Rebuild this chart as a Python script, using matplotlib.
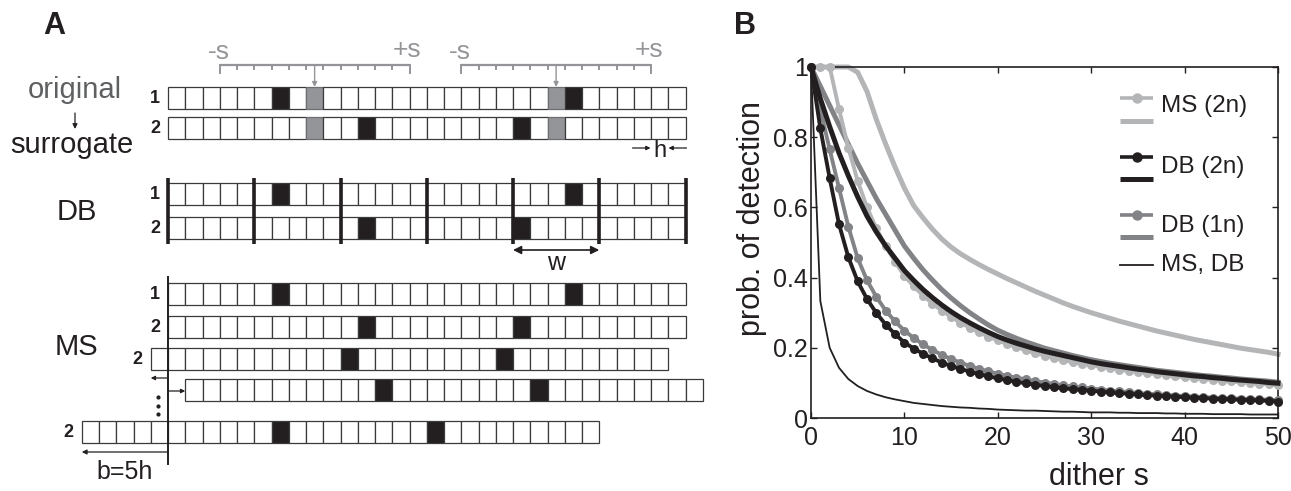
import matplotlib
matplotlib.use('Agg')
import matplotlib.pyplot as plt
from matplotlib.patches import Rectangle

plt.rcParams['font.family'] = ['Liberation Sans', 'DejaVu Sans']

# ---------------- Panel B data ----------------
dither = list(range(51))
ms2n_sim = [1.000, 1.000, 1.000, 0.880, 0.770, 0.675, 0.600, 0.540, 0.490, 0.445, 0.405,
            0.375, 0.349, 0.326, 0.306, 0.288, 0.272, 0.257, 0.244, 0.232, 0.221,
            0.211, 0.202, 0.193, 0.185, 0.178, 0.171, 0.165, 0.159, 0.154, 0.150,
            0.146, 0.142, 0.138, 0.134, 0.131, 0.128, 0.125, 0.122, 0.119, 0.116,
            0.114, 0.111, 0.109, 0.106, 0.104, 0.102, 0.100, 0.098, 0.096, 0.093]
ms2n_theory = [1.000, 1.000, 1.000, 1.000, 1.000, 0.985, 0.930, 0.850, 0.780, 0.715, 0.655,
               0.605, 0.570, 0.538, 0.510, 0.487, 0.468, 0.452, 0.437, 0.423, 0.410,
               0.397, 0.385, 0.373, 0.361, 0.350, 0.339, 0.328, 0.318, 0.309, 0.300,
               0.292, 0.284, 0.276, 0.269, 0.262, 0.255, 0.248, 0.242, 0.236, 0.230,
               0.224, 0.219, 0.214, 0.209, 0.204, 0.199, 0.195, 0.191, 0.187, 0.182]
db2n_sim = [1.000, 0.825, 0.683, 0.552, 0.458, 0.389, 0.339, 0.299, 0.266, 0.239, 0.215,
            0.198, 0.183, 0.170, 0.158, 0.148, 0.140, 0.132, 0.125, 0.119, 0.113,
            0.108, 0.103, 0.099, 0.095, 0.091, 0.088, 0.085, 0.082, 0.080, 0.078,
            0.075, 0.073, 0.071, 0.069, 0.067, 0.065, 0.064, 0.062, 0.061, 0.059,
            0.058, 0.057, 0.055, 0.054, 0.053, 0.052, 0.051, 0.050, 0.049, 0.047]
db2n_theory = [1.000, 0.910, 0.830, 0.755, 0.690, 0.630, 0.575, 0.530, 0.490, 0.455, 0.420,
               0.392, 0.366, 0.343, 0.322, 0.303, 0.286, 0.271, 0.257, 0.244, 0.232,
               0.222, 0.213, 0.205, 0.197, 0.190, 0.184, 0.178, 0.172, 0.166, 0.160,
               0.155, 0.151, 0.147, 0.143, 0.139, 0.136, 0.132, 0.129, 0.126, 0.123,
               0.120, 0.118, 0.115, 0.113, 0.110, 0.108, 0.106, 0.104, 0.101, 0.099]
db1n_sim = [1.000, 0.880, 0.765, 0.655, 0.545, 0.455, 0.392, 0.345, 0.306, 0.275, 0.249,
            0.228, 0.210, 0.194, 0.180, 0.168, 0.158, 0.148, 0.140, 0.133, 0.126,
            0.120, 0.115, 0.110, 0.105, 0.101, 0.097, 0.093, 0.090, 0.087, 0.084,
            0.081, 0.078, 0.076, 0.074, 0.071, 0.069, 0.068, 0.066, 0.064, 0.063,
            0.061, 0.060, 0.058, 0.057, 0.056, 0.055, 0.054, 0.053, 0.052, 0.051]
db1n_theory = [1.000, 0.945, 0.890, 0.835, 0.780, 0.725, 0.675, 0.625, 0.580, 0.535, 0.490,
               0.455, 0.422, 0.393, 0.366, 0.342, 0.320, 0.300, 0.282, 0.265, 0.250,
               0.238, 0.227, 0.217, 0.208, 0.199, 0.192, 0.185, 0.178, 0.172, 0.166,
               0.161, 0.156, 0.152, 0.148, 0.144, 0.140, 0.136, 0.133, 0.130, 0.127,
               0.124, 0.121, 0.119, 0.116, 0.114, 0.111, 0.109, 0.107, 0.105, 0.102]
msdb_thin = [1.000, 0.333, 0.200, 0.143, 0.111, 0.091, 0.077, 0.067, 0.059, 0.053, 0.048,
             0.043, 0.040, 0.037, 0.034, 0.032, 0.030, 0.029, 0.027, 0.026, 0.024,
             0.023, 0.022, 0.021, 0.021, 0.020, 0.019, 0.018, 0.018, 0.017, 0.016,
             0.016, 0.016, 0.015, 0.015, 0.014, 0.014, 0.014, 0.013, 0.013, 0.012,
             0.012, 0.012, 0.011, 0.011, 0.011, 0.011, 0.010, 0.010, 0.010, 0.010]
xticks = [0, 10, 20, 30, 40, 50]
yticks = [0, 0.2, 0.4, 0.6, 0.8, 1]
ytick_labels = ['0', '0.2', '0.4', '0.6', '0.8', '1']
legend_labels = ['MS (2n)', 'DB (2n)', 'DB (1n)', 'MS, DB']

# ---------------- Panel A data (bin indices) ----------------
n_bins = 30
train1_spikes = [6, 23]
train2_spikes = [11, 20]
dithered_spikes = [8, 22]
dither_bins = 5
window_bins = 5
ms_shifts = [0, -1, 1, -5]

# ---------------- styles ----------------
BLACK = '#231f20'
LGRAY = '#b3b5b7'
MGRAY = '#818386'
CGRAY = '#939598'
TGRAY = '#5f6062'

W_PX, H_PX = 1291, 491
fig = plt.figure(figsize=(W_PX / 100, H_PX / 100), dpi=100)

# full-figure overlay axes in pixel coordinates (panel A + legend)
ova = fig.add_axes([0, 0, 1, 1])
ova.set_xlim(0, W_PX)
ova.set_ylim(H_PX, 0)
ova.axis('off')
ova.set_zorder(5)

X0 = 168.0
BW = 17.25
CH = 21.5


def draw_row(y_top, start, black=(), gray=(), n=n_bins, label=None):
    for i in range(n):
        x = X0 + (start + i) * BW
        fc = 'white'
        ec = '#3a3a3a'
        if i in black:
            fc = BLACK
        elif i in gray:
            fc = CGRAY
            ec = '#6d6e71'
        ova.add_patch(Rectangle((x, y_top), BW, CH, fc=fc, ec=ec, lw=0.9, zorder=2))
    if label is not None:
        ova.text(X0 + start * BW - 8, y_top + CH / 2 + 1, label, ha='right', va='center',
                 fontsize=13, fontweight='bold', color=BLACK)


def arrow(x0, y0, x1, y1, color=BLACK, lw=1.0, style='-|>', ms=9):
    ova.annotate('', xy=(x1, y1), xytext=(x0, y0),
                 arrowprops=dict(arrowstyle=style, color=color, lw=lw,
                                 shrinkA=0, shrinkB=0, mutation_scale=ms), zorder=3)

# panel labels
ova.text(54, 26, 'A', fontsize=22, fontweight='bold', ha='center', va='center', color=BLACK)
ova.text(745, 26, 'B', fontsize=22, fontweight='bold', ha='center', va='center', color=BLACK)

# ---- section 1: original -> surrogate
draw_row(87, 0, train1_spikes, dithered_spikes, label='1')
draw_row(117, 0, train2_spikes, dithered_spikes, label='2')
ova.text(75, 90, 'original', ha='center', va='center', fontsize=21, color=TGRAY)
ova.text(72, 145, 'surrogate', ha='center', va='center', fontsize=21, color=BLACK)
arrow(75, 113, 75, 129, lw=0.9, ms=7)
for c in dithered_spikes:
    left = X0 + (c - dither_bins) * BW
    right = X0 + (c + dither_bins + 1) * BW
    yb = 65
    ova.plot([left, right], [yb, yb], color=CGRAY, lw=1.6, solid_capstyle='butt', zorder=3)
    for k in range(c - dither_bins, c + dither_bins + 2):
        xk = X0 + k * BW
        end = k in (c - dither_bins, c + dither_bins + 1)
        ova.plot([xk, xk], [yb, yb + (8 if end else 4)], color=CGRAY, lw=1.4, zorder=3)
    xc = X0 + (c + 0.5) * BW
    arrow(xc, yb, xc, 87, color=CGRAY, lw=1.0, ms=7)
    ova.text(left - 1, 52, '-s', ha='center', va='center', fontsize=19, color=CGRAY)
    ova.text(right - 2, 50, '+s', ha='center', va='center', fontsize=19, color=CGRAY)
# h annotation
xr = X0 + n_bins * BW
arrow(xr - 53, 148, xr - 35, 148, lw=0.9, ms=6)
arrow(xr + 1, 148, xr - 17, 148, lw=0.9, ms=6)
ova.text(xr - 26, 151, 'h', ha='center', va='center', fontsize=17, color=BLACK)

# ---- section DB
draw_row(183, 0, train1_spikes, label='1')
draw_row(217, 0, train2_spikes, label='2')
for k in range(0, n_bins + 1, window_bins):
    xk = X0 + k * BW
    ova.plot([xk, xk], [178, 244], color=BLACK, lw=2.6, solid_capstyle='butt', zorder=4)
ova.text(77, 212, 'DB', ha='center', va='center', fontsize=21, color=BLACK)
wl = X0 + 4 * window_bins * BW
wr = X0 + 5 * window_bins * BW
ova.annotate('', xy=(wl, 250), xytext=(wr, 250),
             arrowprops=dict(arrowstyle='<|-|>', color=BLACK, lw=1.2, shrinkA=0, shrinkB=0,
                             mutation_scale=12), zorder=3)
ova.text((wl + wr) / 2, 263, 'w', ha='center', va='center', fontsize=18, color=BLACK)

# ---- section MS
ms_tops = [316, 348, 379, 421]
draw_row(283, 0, train1_spikes, label='1')
for sh, yt in zip(ms_shifts, ms_tops):
    draw_row(yt, sh, train2_spikes, label=('2' if yt != 379 else None))
ova.plot([X0, X0], [277, 464], color=BLACK, lw=1.4, zorder=4)
arrow(X0, 378, X0 - BW, 378, lw=0.9, ms=6)
arrow(X0, 391, X0 + BW, 391, lw=0.9, ms=6)
for yd in (397, 405.5, 414):
    ova.plot([158], [yd], marker='o', ms=2.0, color=BLACK, zorder=3)
arrow(X0, 452, X0 + ms_shifts[3] * BW, 452, lw=0.9, ms=7)
ova.text(125, 472, 'b=5h', ha='center', va='center', fontsize=18, color=BLACK)
ova.text(76, 347, 'MS', ha='center', va='center', fontsize=21, color=BLACK)

# ---------------- Panel B ----------------
axb = fig.add_axes([811 / W_PX, 1 - 418 / H_PX, 467 / W_PX, 351 / H_PX])
axb.plot(dither, ms2n_theory, color=LGRAY, lw=3.6, clip_on=False, zorder=2)
axb.plot(dither, db1n_theory, color=MGRAY, lw=3.6, clip_on=False, zorder=2)
axb.plot(dither, ms2n_sim, color=LGRAY, lw=2.8, marker='o', ms=6.5, mew=0, clip_on=False, zorder=3)
axb.plot(dither, db1n_sim, color=MGRAY, lw=2.8, marker='o', ms=6.5, mew=0, clip_on=False, zorder=3)
axb.plot(dither, db2n_theory, color=BLACK, lw=3.6, clip_on=False, zorder=4)
axb.plot(dither, db2n_sim, color=BLACK, lw=2.8, marker='o', ms=6.5, mew=0, clip_on=False, zorder=5)
axb.plot(dither, msdb_thin, color=BLACK, lw=1.3, clip_on=False, zorder=6)

axb.set_xlim(0, 50)
axb.set_ylim(0, 1)
axb.set_xticks(xticks)
axb.set_xticklabels([str(v) for v in xticks])
axb.set_yticks(yticks)
axb.set_yticklabels(ytick_labels)
axb.tick_params(direction='in', length=4, width=1.0, top=True, right=True,
                labelsize=18, colors=BLACK)
axb.tick_params(axis='x', pad=6)
axb.tick_params(axis='y', pad=2)
for sp in axb.spines.values():
    sp.set_linewidth(1.2)
    sp.set_color(BLACK)
fig.text(752 / W_PX, 1 - 219 / H_PX, 'prob. of detection', rotation=90, ha='center',
         va='center', fontsize=22, color=BLACK)
fig.text(1099 / W_PX, 1 - 477 / H_PX, 'dither s', ha='center', va='center',
         fontsize=22, color=BLACK)

# legend (drawn in overlay pixel coordinates)
hx0, hx1 = 1120, 1153
leg = [(LGRAY, 98, 121, 106), (BLACK, 157, 179, 167), (MGRAY, 215, 237, 226)]
for (col, ym, yt, ytext), lab in zip(leg, legend_labels[:3]):
    ova.plot([hx0, hx1], [ym, ym], color=col, lw=2.6, solid_capstyle='butt')
    ova.plot([(hx0 + hx1) / 2], [ym], marker='o', ms=7.5, mew=0, color=col)
    ova.plot([hx0, hx1], [yt, yt], color=col, lw=3.6, solid_capstyle='butt')
    ova.text(1161, ytext, lab, ha='left', va='center', fontsize=17.5, color=BLACK)
ova.plot([hx0, hx1], [265, 265], color=BLACK, lw=1.3)
ova.text(1161, 265, legend_labels[3], ha='left', va='center', fontsize=17.5, color=BLACK)

fig.savefig('out.png', dpi=100)
